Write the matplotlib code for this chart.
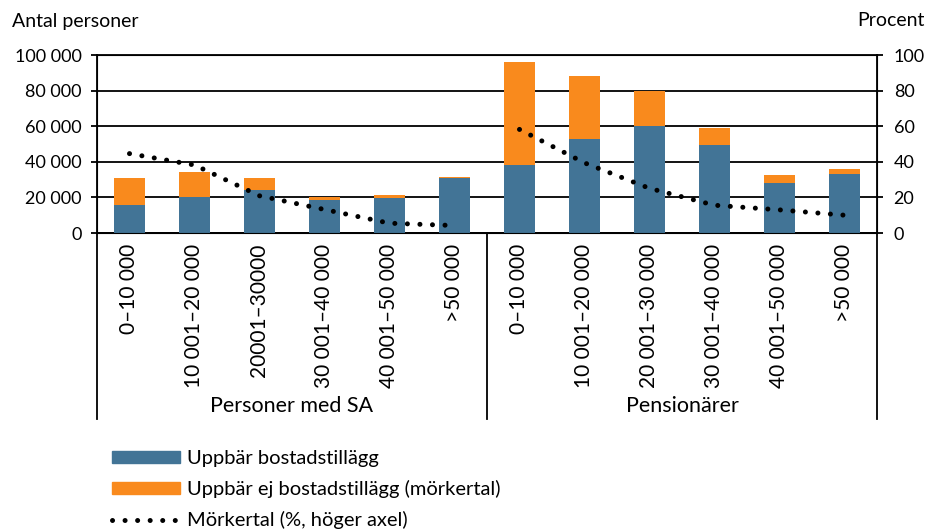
import matplotlib
matplotlib.use('Agg')
import matplotlib.pyplot as plt
from matplotlib.patches import Patch
from matplotlib.lines import Line2D
import numpy as np

plt.rcParams['font.family'] = ['Lato', 'DejaVu Sans']

# data
groups = ['Personer med SA', 'Pensionärer']
labels = ['0–10 000', '10 001–20 000', '20001–30000', '30 001–40 000', '40 001–50 000', '>50 000',
          '0–10 000', '10 001–20 000', '20 001–30 000', '30 001–40 000', '40 001–50 000', '>50 000']
with_bt = [16000, 20500, 24000, 18300, 19400, 30700,
           38400, 53000, 60000, 49500, 28200, 32900]
without_bt = [15000, 13500, 7000, 2200, 2200, 900,
              57600, 35000, 20000, 9300, 4600, 3300]
morkertal_sa = [44.6, 38.2, 20.9, 13.2, 5.5, 4.2]
morkertal_pens = [58.2, 39.4, 25.1, 15.6, 13.0, 10.0]

BLUE = '#427496'
ORANGE = '#F98A1D'

fig = plt.figure(figsize=(9.3, 5.31), dpi=100)
ax = fig.add_axes([0.1043, 0.5612, 0.8387, 0.3352])
x = np.arange(len(labels))

ax.bar(x, with_bt, width=0.49, color=BLUE, zorder=3)
ax.bar(x, without_bt, width=0.49, bottom=with_bt, color=ORANGE, zorder=3)
ax.set_xlim(-0.5, len(labels) - 0.5)
ax.set_ylim(0, 100000)
ax.set_yticks(np.arange(0, 100001, 20000))
ax.set_yticklabels([f'{v:,}'.replace(',', ' ') for v in range(0, 100001, 20000)], fontsize=13)
ax.grid(axis='y', color='black', linewidth=1.3, zorder=0)
ax.tick_params(axis='y', length=4, width=1.3, pad=7)
for s in ax.spines.values():
    s.set_linewidth(1.3)

ax.set_xticks(x)
ax.set_xticklabels(labels, rotation=90, fontsize=15, va='top')
ax.tick_params(axis='x', length=0, pad=8)

# right axis with the dotted share line
ax2 = ax.twinx()
ax2.set_ylim(0, 100)
ax2.set_yticks(np.arange(0, 101, 20))
ax2.tick_params(axis='y', length=4, width=1.3, labelsize=13, pad=8)
dot_style = dict(color='black', linewidth=3.6, linestyle=(0, (0.01, 2.5)),
                 dash_capstyle='round', zorder=5)
ax2.plot(x[:6], morkertal_sa, **dot_style)
ax2.plot(x[6:], morkertal_pens, **dot_style)

# group separators and group names under the axis
tr = ax.get_xaxis_transform()
for xv in [-0.5, 5.5, 11.5]:
    ax.add_line(Line2D([xv, xv], [0, -1.045], transform=tr, color='black',
                       linewidth=1.3, clip_on=False))
ax.text(2.5, -0.97, groups[0], transform=tr, ha='center', va='center', fontsize=15.5)
ax.text(8.5, -0.97, groups[1], transform=tr, ha='center', va='center', fontsize=15.5)

fig.text(12 / 930, 1 - 21 / 531, 'Antal personer', fontsize=14, va='center', ha='left')
fig.text(925 / 930, 1 - 21 / 531, 'Procent', fontsize=14, va='center', ha='right')

handles = [Patch(color=BLUE), Patch(color=ORANGE),
           Line2D([0], [0], **{k: v for k, v in dot_style.items() if k != 'zorder'})]
fig.legend(handles, ['Uppbär bostadstillägg', 'Uppbär ej bostadstillägg (mörkertal)',
                     'Mörkertal (%, höger axel)'],
           loc='upper left', bbox_to_anchor=(112 / 930, 1 - 450 / 531), frameon=False,
           fontsize=14.5, handlelength=3.4, handleheight=0.6, handletextpad=0.3,
           labelspacing=0.65, borderaxespad=0, borderpad=0)

fig.savefig('out.png', dpi=100)
